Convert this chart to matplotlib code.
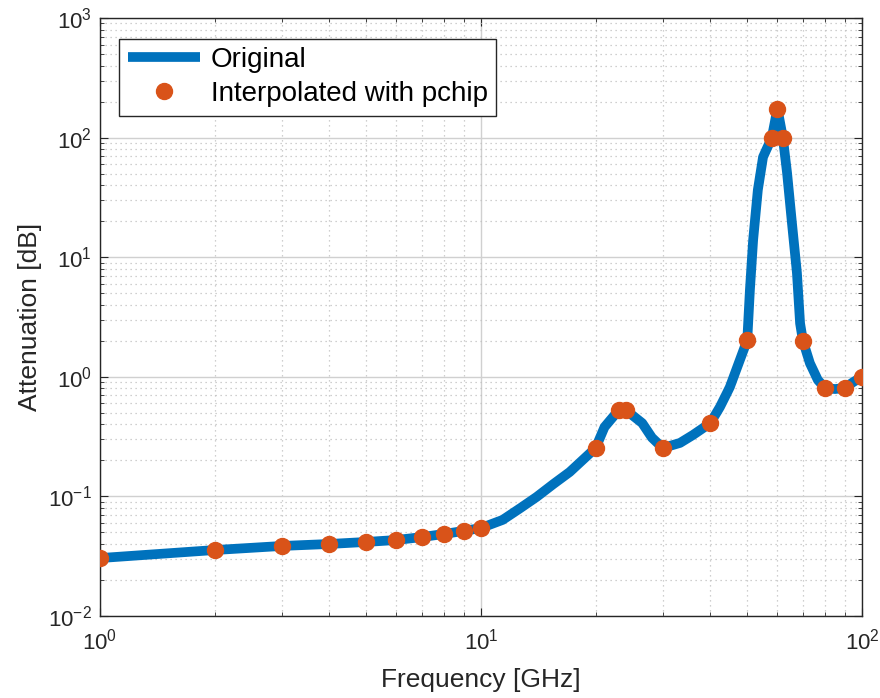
"""Attenuation vs frequency, original curve and pchip-interpolated points."""

import matplotlib

matplotlib.use("Agg")
import matplotlib.pyplot as plt

plt.rcParams["font.family"] = ["Liberation Sans", "DejaVu Sans"]
plt.rcParams["mathtext.fontset"] = "custom"
plt.rcParams["mathtext.rm"] = "Liberation Sans"
plt.rcParams["mathtext.it"] = "Liberation Sans"
plt.rcParams["axes.unicode_minus"] = False

# values
freq_line = [1, 2, 3, 4, 5, 6, 7, 8, 9, 10, 11.4, 12.7, 14, 15.5, 17.1, 20,
             21.1, 23, 24, 26.5, 28.1, 30, 33.3, 36, 40, 42.4, 44.2, 45, 50,
             50.8, 51.8, 53.3, 55, 58, 60, 62, 63.6, 65.5, 67.5, 68.8, 70,
             73, 76.6, 80, 85, 90, 95, 100]
att_line = [0.0305, 0.0356, 0.0385, 0.040, 0.0416, 0.0432, 0.0457, 0.0485,
            0.0514, 0.0544, 0.0636, 0.080, 0.099, 0.127, 0.16, 0.254, 0.38,
            0.527, 0.527, 0.41, 0.31, 0.254, 0.28, 0.326, 0.41, 0.56, 0.73,
            0.82, 2.03, 5.3, 13.9, 36.5, 68.8, 100, 175, 100, 50.6, 19.3, 7.4,
            2.8, 2.0, 1.30, 0.94, 0.806, 0.79, 0.806, 0.906, 1.0]

freq_pts = [1, 2, 3, 4, 5, 6, 7, 8, 9, 10, 20, 23, 24, 30, 40, 50, 58, 60, 62,
            70, 80, 90, 100]
att_pts = [0.0305, 0.0356, 0.0385, 0.040, 0.0416, 0.0432, 0.0457, 0.0485,
           0.0514, 0.0544, 0.254, 0.527, 0.527, 0.254, 0.41, 2.03, 100, 175,
           100, 2.0, 0.806, 0.806, 1.0]

fig = plt.figure(figsize=(8.8, 6.98), dpi=100)
ax = fig.add_axes([0.1136, 0.1175, 0.8659, 0.8567])

ax.loglog(freq_line, att_line, color="#0072BD", lw=7, label="Original",
          solid_capstyle="butt", solid_joinstyle="round", zorder=3)
ax.loglog(freq_pts, att_pts, ls="none", marker="o", ms=11.5, color="#D95319",
          mec="#D95319", label="Interpolated with pchip", zorder=4)

ax.set_xlim(1, 100)
ax.set_ylim(1e-2, 1e3)

ax.grid(True, which="major", color="#d0d0d0", lw=1.0, ls="-")
ax.grid(True, which="minor", color="#c0c0c0", lw=0.9, ls=(0, (1, 3)))
ax.set_axisbelow(True)

for sp in ax.spines.values():
    sp.set_color("#262626")
    sp.set_linewidth(1.0)
ax.tick_params(which="both", direction="in", top=True, right=True,
               colors="#262626", labelsize=16)
ax.tick_params(which="major", length=6)
ax.tick_params(which="minor", length=3)
ax.tick_params(axis="x", pad=9)
ax.tick_params(axis="y", pad=6)

ax.set_xlabel("Frequency [GHz]", fontsize=19, color="#262626", labelpad=10)
ax.set_ylabel("Attenuation [dB]", fontsize=19, color="#262626", labelpad=4)

leg = ax.legend(loc="upper left", fontsize=20, handlelength=2.6,
                bbox_to_anchor=(0.018, 0.975), borderaxespad=0.2,
                fancybox=False, framealpha=1, edgecolor="#262626",
                borderpad=0.3, labelspacing=0.3, handletextpad=0.4)
leg.get_frame().set_linewidth(1.0)

fig.savefig("out.png", dpi=100)
plt.close(fig)
